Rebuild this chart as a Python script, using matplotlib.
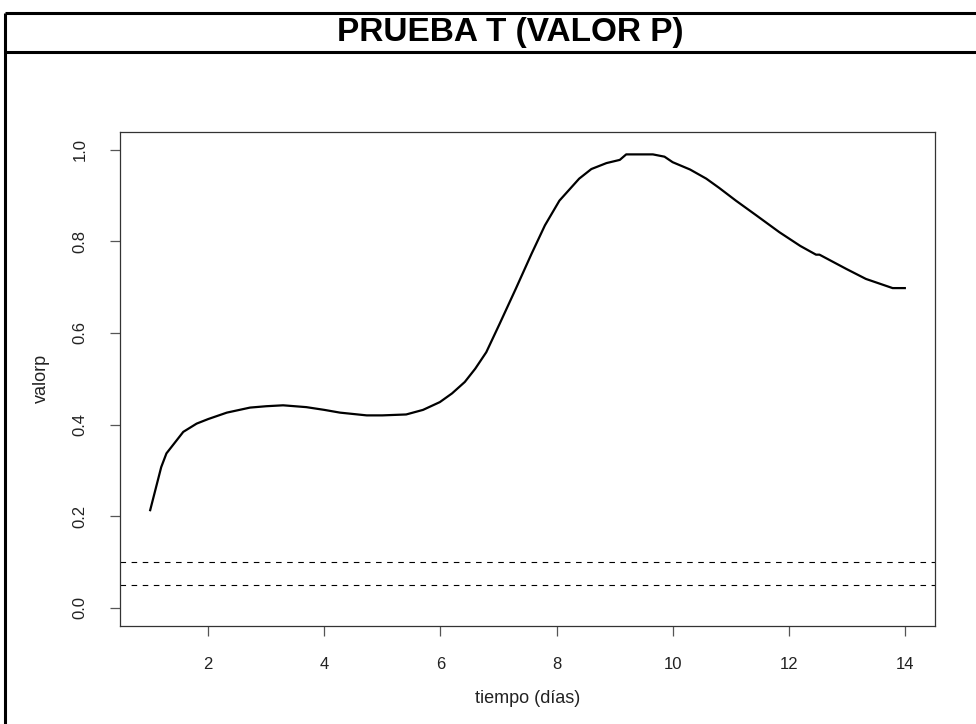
import numpy as np
import matplotlib
matplotlib.use("Agg")
import matplotlib.pyplot as plt
from matplotlib.lines import Line2D

plt.rcParams['font.family'] = ['Liberation Sans Narrow', 'Liberation Sans', 'DejaVu Sans']

# valor p de la prueba t a lo largo de los dias
tiempo = [1.0, 1.19, 1.28, 1.57, 1.80, 2.0, 2.32, 2.72, 3.0, 3.29, 3.69, 4.0,
          4.27, 4.73, 5.0, 5.41, 5.7, 5.99, 6.2, 6.42, 6.6, 6.79, 7.02, 7.3,
          7.57, 7.8, 8.05, 8.39, 8.6, 8.86, 9.09, 9.20, 9.66, 9.86, 10.0, 10.3,
          10.58, 10.8, 11.09, 11.44, 11.84, 12.2, 12.47, 12.53, 12.99, 13.33,
          13.79, 14.0]
valorp = [0.213, 0.307, 0.337, 0.384, 0.402, 0.412, 0.426, 0.437, 0.440, 0.442,
          0.438, 0.432, 0.426, 0.420, 0.420, 0.422, 0.432, 0.449, 0.468, 0.493,
          0.522, 0.558, 0.620, 0.697, 0.773, 0.835, 0.889, 0.937, 0.958, 0.971,
          0.978, 0.990, 0.990, 0.985, 0.973, 0.957, 0.937, 0.917, 0.889, 0.857,
          0.820, 0.790, 0.771, 0.771, 0.740, 0.718, 0.698, 0.698]

# niveles de significancia
alfas = [0.1, 0.05]

xticks = [2, 4, 6, 8, 10, 12, 14]
yticks = [0.0, 0.2, 0.4, 0.6, 0.8, 1.0]

W, H = 976, 724
fig = plt.figure(figsize=(W / 100, H / 100), dpi=100)

# marco exterior y caja del titulo
for (x0, y0, x1, y1) in [(5, 13, W + 5, 13), (5, 52, W + 5, 52), (5, 13, 5, H + 5)]:
    fig.add_artist(Line2D([x0 / W, x1 / W], [1 - y0 / H, 1 - y1 / H],
                          color="black", linewidth=2.2, solid_capstyle="butt"))

fig.text(510 / W, 1 - 32 / H, "PRUEBA T (VALOR P)", ha="center", va="center",
         fontsize=24, fontweight="bold")

ax = fig.add_axes([120 / W, 1 - 626 / H, (935 - 120) / W, (626 - 131.5) / H])

ax.plot(tiempo, valorp, color="black", linewidth=1.6)
for a in alfas:
    ax.axhline(a, color="black", linewidth=0.8, linestyle=(0, (5, 5)))

ax.set_xlim(0.48, 14.52)
ax.set_ylim(-0.04, 1.04)
ax.set_xticks(xticks)
ax.set_yticks(yticks)
ax.set_xticklabels([str(v) for v in xticks])
ax.set_yticklabels([f"{v:.1f}" for v in yticks], rotation=90, va="center")

for s in ax.spines.values():
    s.set_color("#333333")
    s.set_linewidth(0.9)

ax.tick_params(axis="both", length=7.5, width=0.9, color="#555555",
               labelsize=12, labelcolor="#222222")
ax.tick_params(axis="x", pad=15)
ax.tick_params(axis="y", pad=16)

ax.set_xlabel("tiempo (días)", fontsize=13, color="#222222", labelpad=13)
ax.set_ylabel("valorp", fontsize=13, color="#222222", labelpad=16)

fig.savefig("out.png", dpi=100, facecolor="white")
